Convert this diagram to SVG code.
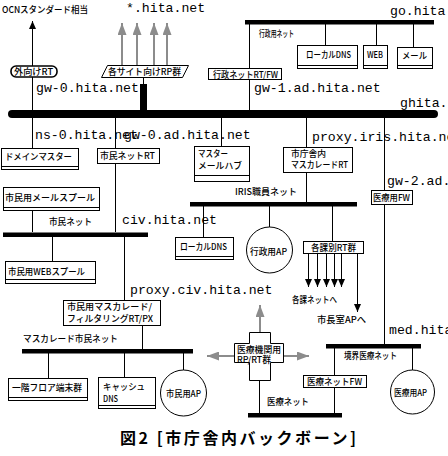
<svg xmlns="http://www.w3.org/2000/svg" width="448" height="456" viewBox="0 0 448 456">
<defs>
<style>
.t{font-family:"Noto Sans CJK JP","Noto Sans CJK SC",sans-serif;font-size:9px;font-weight:500;fill:#000}
.m{font-family:"Liberation Mono","Courier New",monospace;font-size:13.2px;fill:#000}
.cap{font-family:"Noto Sans CJK JP","Noto Sans CJK SC",sans-serif;font-size:16px;font-weight:bold;fill:#000}
.b{fill:#fff;stroke:#000;stroke-width:1}
.l{stroke:#000;stroke-width:1;fill:none}
.g{stroke:#8c8c8c;stroke-width:2;fill:none}
.bar{fill:#000}
</style>
<marker id="ah" viewBox="0 0 8 7" refX="8" refY="3.5" markerWidth="8" markerHeight="7" markerUnits="userSpaceOnUse" orient="auto"><path d="M0,0L8,3.5L0,7z" fill="#000"/></marker>
<marker id="gh" viewBox="0 0 12 9" refX="12" refY="4.5" markerWidth="12" markerHeight="9" markerUnits="userSpaceOnUse" orient="auto"><path d="M0,0L12,4.5L0,9z" fill="#8c8c8c"/></marker>
</defs>
<rect width="448" height="456" fill="#fff"/>

<g id="connectors">
<path class="l" d="M32.5,148V21" marker-end="url(#ah)"/>
<path class="l" d="M115.5,118V232M221.5,118V146M306.5,118V202M384.5,118V344M249.5,24V110M325.5,24V45M376.5,24V45M413.5,24V47M143.5,77V84M32.5,210V232M52.5,237V261M124.5,237V300M142.5,325V349M48.5,353V378M124.5,353V377M183.5,353V370M203.5,206V237M269.5,206V227M332.5,206V241M259.5,380V413M334.5,348V375M334.5,387V413M412.5,348V370"/>
<path class="l" d="M308.5,253V287" marker-end="url(#ah)"/>
<path class="l" d="M317.5,253V287" marker-end="url(#ah)"/>
<path class="l" d="M326.5,253V287" marker-end="url(#ah)"/>
<path class="l" d="M334.5,253V287" marker-end="url(#ah)"/>
<path class="l" d="M341.5,253V287" marker-end="url(#ah)"/>
<path class="l" d="M357.5,253V312" marker-end="url(#ah)"/>
<path class="g" d="M122,65V23" marker-end="url(#gh)"/>
<path class="g" d="M137,65V23" marker-end="url(#gh)"/>
<path class="g" d="M154,65V23" marker-end="url(#gh)"/>
<path class="g" d="M167,65V23" marker-end="url(#gh)"/>
<path class="g" d="M260,332V305" marker-end="url(#gh)"/>
<path class="g" d="M234,356H207" marker-end="url(#gh)"/>
<path class="g" d="M283,356H309" marker-end="url(#gh)"/>
<rect x="140" y="84" width="7" height="30" fill="#000"/>
</g>

<g id="labels-top">
<text class="t" x="2" y="13" textLength="86" lengthAdjust="spacingAndGlyphs">OCNスタンダード相当</text>
<text class="m" x="126" y="12">*.hita.net</text>
</g>

<g id="backbone">
<path d="M12,114H434" stroke="#000" stroke-width="8" stroke-linecap="round"/>
<text class="m" x="400" y="107">ghita.</text>
<text class="m" x="36" y="92">gw-0.hita.net</text>
<text class="m" x="254" y="92">gw-1.ad.hita.net</text>
<text class="m" x="35" y="139">ns-0.hita.net</text>
<text class="m" x="124" y="139">gw-0.ad.hita.net</text>
<text class="m" x="312" y="141">proxy.iris.hita.ne</text>
<text class="m" x="387" y="185">gw-2.ad.</text>
</g>

<g id="gaikou-rt">
<rect x="11" y="66" width="46" height="11" rx="5" fill="#fff" stroke="#000" stroke-width="1.6"/>
<text class="t" x="14" y="75" textLength="39" lengthAdjust="spacingAndGlyphs">外向けRT</text>
</g>

<g id="site-rp">
<path class="b" d="M107.5,65.5H188.5L182.5,77.5H101.5Z"/>
<text class="t" x="108" y="75" textLength="73" lengthAdjust="spacingAndGlyphs">各サイト向けRP群</text>
</g>

<g id="go-net">
<rect class="bar" x="245" y="20" width="189" height="4.5"/>
<text class="m" x="390" y="15">go.hita</text>
<text class="t" x="259" y="37" textLength="35" lengthAdjust="spacingAndGlyphs">行政用ネット</text>
</g>

<g id="local-dns-1">
<rect class="b" x="297.5" y="45.5" width="60" height="23"/>
<path class="l" d="M297.5,65.5H357.5"/>
<text class="t" x="306" y="58" textLength="45" lengthAdjust="spacingAndGlyphs">ローカルDNS</text>
</g>
<g id="web">
<rect class="b" x="363.5" y="45.5" width="24" height="23"/>
<path class="l" d="M363.5,65.5H387.5"/>
<text class="t" x="367" y="58" textLength="16" lengthAdjust="spacingAndGlyphs">WEB</text>
</g>
<g id="mail">
<rect class="b" x="397.5" y="47.5" width="35" height="21"/>
<path class="l" d="M397.5,65.5H432.5"/>
<text class="t" x="402" y="59" textLength="25" lengthAdjust="spacingAndGlyphs">メール</text>
</g>

<g id="gyousei-rt">
<rect class="b" x="208.5" y="68.5" width="73" height="11"/>
<text class="t" x="213" y="77.5" textLength="65" lengthAdjust="spacingAndGlyphs">行政ネットRT/FW</text>
</g>

<g id="domain-master">
<rect class="b" x="1.5" y="148.5" width="77" height="21"/>
<path class="l" d="M1.5,166.5H78.5"/>
<text class="t" x="5" y="160" textLength="67" lengthAdjust="spacingAndGlyphs">ドメインマスター</text>
</g>

<g id="shimin-rt">
<rect class="b" x="97.5" y="148.5" width="62" height="15"/>
<text class="t" x="100" y="159" textLength="55" lengthAdjust="spacingAndGlyphs">市民ネットRT</text>
</g>

<g id="master-mail-hub">
<rect class="b" x="194.5" y="146.5" width="55" height="35"/>
<path class="l" d="M194.5,175.5H249.5"/>
<text class="t" x="198" y="157" textLength="30" lengthAdjust="spacingAndGlyphs">マスター</text>
<text class="t" x="198" y="169" textLength="44" lengthAdjust="spacingAndGlyphs">メールハブ</text>
</g>

<g id="chousha-masq-rt">
<rect class="b" x="283.5" y="147.5" width="69" height="25"/>
<text class="t" x="291" y="157" textLength="35" lengthAdjust="spacingAndGlyphs">市庁舎内</text>
<text class="t" x="291" y="168" textLength="57" lengthAdjust="spacingAndGlyphs">マスカレードRT</text>
</g>

<g id="iryou-fw">
<rect class="b" x="371.5" y="190.5" width="41" height="14"/>
<text class="t" x="373" y="201" textLength="37" lengthAdjust="spacingAndGlyphs">医療用FW</text>
</g>

<g id="iris-net">
<rect class="bar" x="190" y="202" width="167" height="4.5"/>
<text class="t" x="235" y="195" textLength="62" lengthAdjust="spacingAndGlyphs">IRIS職員ネット</text>
</g>

<g id="mail-spool">
<rect class="b" x="3.5" y="187.5" width="96" height="23"/>
<path class="l" d="M3.5,207.5H99.5"/>
<text class="t" x="5" y="201" textLength="90" lengthAdjust="spacingAndGlyphs">市民用メールスプール</text>
</g>

<g id="civ-net">
<rect class="bar" x="3" y="232.5" width="145" height="4.5"/>
<text class="t" x="49" y="225" textLength="43" lengthAdjust="spacingAndGlyphs">市民ネット</text>
<text class="m" x="122" y="224">civ.hita.net</text>
</g>

<g id="local-dns-2">
<rect class="b" x="175.5" y="237.5" width="58" height="22"/>
<path class="l" d="M175.5,256.5H233.5"/>
<text class="t" x="180" y="250" textLength="47" lengthAdjust="spacingAndGlyphs">ローカルDNS</text>
</g>

<g id="gyousei-ap">
<circle class="b" cx="269.5" cy="250" r="23"/>
<text class="t" x="250" y="255" textLength="37" lengthAdjust="spacingAndGlyphs">行政用AP</text>
</g>

<g id="kaku-rt">
<rect class="b" x="303.5" y="241.5" width="60" height="12"/>
<text class="t" x="311" y="251" textLength="45" lengthAdjust="spacingAndGlyphs">各課別RT群</text>
<text class="t" x="292" y="303" textLength="45" lengthAdjust="spacingAndGlyphs">各課ネットへ</text>
<text class="t" x="317" y="323" textLength="49" lengthAdjust="spacingAndGlyphs">市長室APへ</text>
</g>

<g id="web-spool">
<rect class="b" x="5.5" y="261.5" width="90" height="22"/>
<path class="l" d="M5.5,279.5H95.5"/>
<text class="t" x="8" y="275" textLength="77" lengthAdjust="spacingAndGlyphs">市民用WEBスプール</text>
</g>

<g id="shimin-masq">
<text class="m" x="130" y="294">proxy.civ.hita.net</text>
<rect class="b" x="63.5" y="300.5" width="97" height="25"/>
<text class="t" x="67" y="310" textLength="85" lengthAdjust="spacingAndGlyphs">市民用マスカレード/</text>
<text class="t" x="67" y="322" textLength="86" lengthAdjust="spacingAndGlyphs">フィルタリングRT/PX</text>
</g>

<g id="masq-net">
<rect class="bar" x="22" y="349" width="171" height="4.5"/>
<text class="t" x="23" y="342" textLength="95" lengthAdjust="spacingAndGlyphs">マスカレード市民ネット</text>
</g>

<g id="floor-terminals">
<rect class="b" x="8.5" y="378.5" width="79" height="22"/>
<path class="l" d="M8.5,397.5H87.5"/>
<text class="t" x="12" y="391" textLength="70" lengthAdjust="spacingAndGlyphs">一階フロア端末群</text>
</g>

<g id="cache-dns">
<rect class="b" x="98.5" y="377.5" width="57" height="31"/>
<path class="l" d="M98.5,405.5H155.5"/>
<text class="t" x="103" y="390" textLength="42" lengthAdjust="spacingAndGlyphs">キャッシュ</text>
<text class="t" x="103" y="402" textLength="15" lengthAdjust="spacingAndGlyphs">DNS</text>
</g>

<g id="shimin-ap">
<circle class="b" cx="183.5" cy="393" r="23"/>
<text class="t" x="166" y="397" textLength="35" lengthAdjust="spacingAndGlyphs">市民用AP</text>
</g>

<g id="iryou-rp">
<path class="b" d="M249.5,332.5H270.5V343.5H283.5V362.5H270.5V380.5H249.5V362.5H234.5V343.5H249.5Z"/>
<text class="t" x="237" y="352.5" textLength="44" lengthAdjust="spacingAndGlyphs">医療機関用</text>
<text class="t" x="237" y="363" textLength="34" lengthAdjust="spacingAndGlyphs">RP/RT群</text>
</g>

<g id="kyoukai-net">
<text class="m" x="389" y="334">med.hita</text>
<rect class="bar" x="326" y="344" width="95" height="4.5"/>
<text class="t" x="344" y="359" textLength="53" lengthAdjust="spacingAndGlyphs">境界医療ネット</text>
</g>

<g id="iryou-net-fw">
<rect class="b" x="303.5" y="375.5" width="63" height="12"/>
<text class="t" x="307" y="385" textLength="55" lengthAdjust="spacingAndGlyphs">医療ネットFW</text>
</g>

<g id="iryou-ap">
<circle class="b" cx="412.5" cy="392" r="22"/>
<text class="t" x="394" y="396" textLength="33" lengthAdjust="spacingAndGlyphs">医療用AP</text>
</g>

<g id="iryou-net">
<rect class="bar" x="248" y="413" width="94" height="4.5"/>
<text class="t" x="267" y="405" textLength="42" lengthAdjust="spacingAndGlyphs">医療ネット</text>
</g>

<g id="caption">
<text class="cap" x="120" y="444" textLength="236">図2 [市庁舎内バックボーン]</text>
</g>
</svg>
